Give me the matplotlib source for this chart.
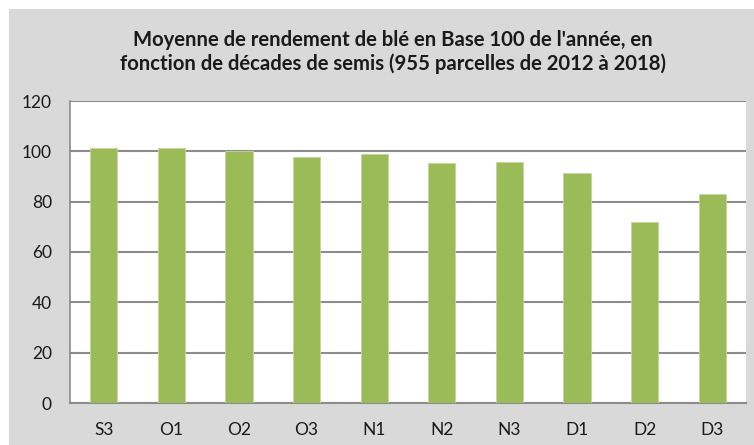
import matplotlib
matplotlib.use("Agg")
import matplotlib.pyplot as plt
from matplotlib.patches import Rectangle

categories = ["S3", "O1", "O2", "O3", "N1", "N2", "N3", "D1", "D2", "D3"]
values = [101.2, 101.2, 100.1, 97.7, 98.9, 95.2, 95.6, 91.4, 71.9, 83.2]
yticks = [0, 20, 40, 60, 80, 100, 120]
title = "Moyenne de rendement de blé en Base 100 de l'année, en\nfonction de décades de semis (955 parcelles de 2012 à 2018)"

W, H = 754, 445
fig = plt.figure(figsize=(W / 100, H / 100), dpi=100, facecolor="white")
fig.patches.append(Rectangle((9 / W, 0), 1 - 9 / W, (H - 9) / H, transform=fig.transFigure,
                             facecolor="#d9d9d9", edgecolor="none", zorder=-10))

ax = fig.add_axes([70 / W, (H - 403) / H, (746 - 70) / W, (403 - 101) / H])
ax.set_zorder(1)
ax.set_facecolor("white")
x = list(range(len(categories)))
ax.bar(x, values, width=0.4, color="#9bbb59", edgecolor="#c4d79b", linewidth=0.6, zorder=3)
ax.set_xlim(-0.5, len(categories) - 0.5)
ax.set_ylim(0, 120)
ax.set_yticks(yticks)
ax.set_xticks(x)
ax.set_xticklabels(categories)
ax.grid(axis="y", color="#8c8c8c", linewidth=1.5, zorder=1)
ax.tick_params(axis="both", length=0, labelsize=12.5, colors="#1a1a1a")
ax.tick_params(axis="x", pad=14)
ax.tick_params(axis="y", pad=13)
for lbl in ax.get_xticklabels() + ax.get_yticklabels():
    lbl.set_family("Lato")
ax.spines["top"].set_visible(False)
ax.spines["right"].set_visible(False)
ax.spines["left"].set_color("#8c8c8c")
ax.spines["bottom"].set_color("#8c8c8c")
ax.spines["left"].set_linewidth(1.2)
ax.spines["bottom"].set_linewidth(1.5)

fig.text(393 / W, 1 - 52 / H, title, ha="center", va="center", fontsize=14.6,
         fontweight="bold", family="Lato", color="#1a1a1a", linespacing=1.2)

fig.savefig("out.png", dpi=100, facecolor=fig.get_facecolor())
